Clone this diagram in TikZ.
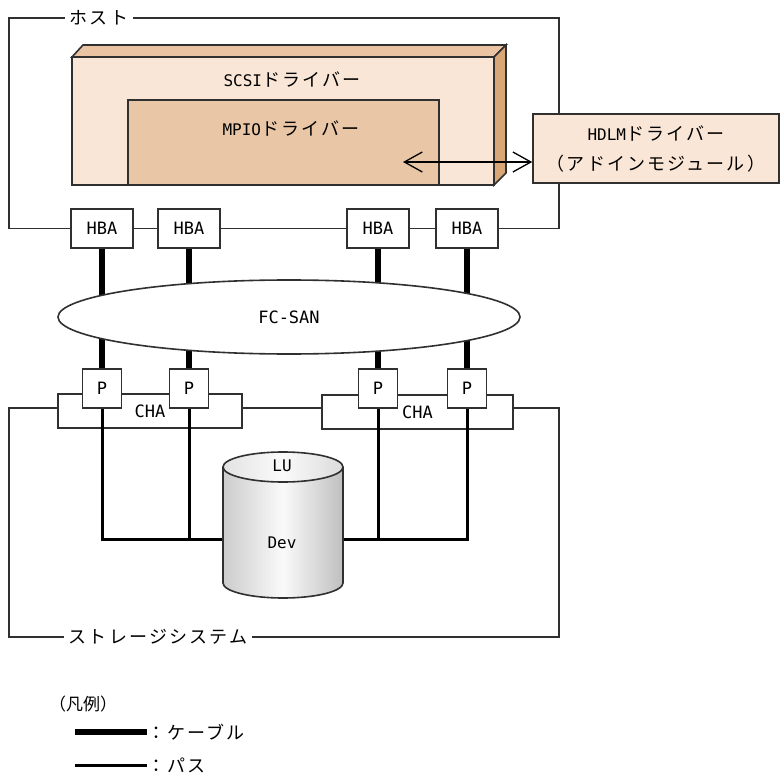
\documentclass[tikz,border=0pt]{standalone}
\usepackage{fontspec}
\usetikzlibrary{arrows.meta,shapes.geometric}
\newfontfamily\jp[LetterSpace=12]{Noto Sans CJK JP}
\newfontfamily\jpn{Noto Sans CJK JP}
\newfontfamily\mono{DejaVu Sans Mono}
\definecolor{scsifront}{HTML}{F9E6D6}
\definecolor{scsitop}{HTML}{EAC4A2}
\definecolor{scsiside}{HTML}{D9A677}
\definecolor{mpiofill}{HTML}{E8C6A6}
\definecolor{hdlmfill}{HTML}{FAE6D6}
\definecolor{ln}{HTML}{303030}
\begin{document}
\begin{tikzpicture}[x=1pt,y=-1pt,
  frame/.style={draw=ln,line width=1.4pt},
  outl/.style={draw=ln,line width=1.6pt},
  box/.style={draw=ln,line width=1.6pt,fill=white,inner sep=0pt,rectangle},
  hbabox/.style={box,minimum width=62pt,minimum height=39pt,font=\mono\fontsize{17}{17}\selectfont},
  pbox/.style={box,minimum width=39pt,minimum height=39pt,font=\mono\fontsize{17}{17}\selectfont},
  chabox/.style={box,minimum height=34pt,font=\mono\fontsize{17}{17}\selectfont},
  cable/.style={line width=5.5pt,black},
  pathline/.style={line width=3pt,black},
  lbl/.style={font=\jp\fontsize{18}{18}\selectfont,inner sep=5pt},
  txt/.style={inner sep=0pt},
]
\useasboundingbox (0,0) rectangle (780,776);

% ---------- host frame ----------
\node[lbl] (hostl) at (99,18) {ホスト};
\node[hbabox] (hba1) at (102,228.5) {HBA};
\node[hbabox] (hba2) at (189,228.5) {HBA};
\node[hbabox] (hba3) at (378,228.5) {HBA};
\node[hbabox] (hba4) at (467,228.5) {HBA};
\draw[frame] (hostl.east) -- (559,18) -- (559,228.5) -- (hba4.east);
\draw[frame] (hba4.west) -- (hba3.east);
\draw[frame] (hba3.west) -- (hba2.east);
\draw[frame] (hba2.west) -- (hba1.east);
\draw[frame] (hba1.west) -- (9,228.5) -- (9,18) -- (hostl.west);

% ---------- SCSI driver (3D block) ----------
\filldraw[outl,fill=scsitop] (72,57) -- (83,45) -- (506,45) -- (494,57) -- cycle;
\filldraw[outl,fill=scsiside] (494,57) -- (506,45) -- (506,173) -- (494,185) -- cycle;
\filldraw[outl,fill=scsifront] (72,57) rectangle (494,185);
\node[txt] (scsi) at (292,80) {{\mono\fontsize{16}{16}\selectfont SCSI}{\jp\fontsize{18}{18}\selectfont ドライバー}};
\node[box,fill=mpiofill,minimum width=311pt,minimum height=85pt] (mpio) at (283.5,142.5) {};
\node[txt] (mpiol) at (291,129) {{\mono\fontsize{16}{16}\selectfont MPIO}{\jp\fontsize{18}{18}\selectfont ドライバー}};

% ---------- HDLM driver ----------
\node[box,fill=hdlmfill,minimum width=246pt,minimum height=69pt,align=center,
      font=\fontsize{18}{30}\selectfont] (hdlm) at (656,148.5)
  {{\mono\fontsize{16}{16}\selectfont HDLM}{\jp ドライバー}\\{\jp （アドインモジュール）}};
\coordinate (arrL) at (403,162);
\draw[line width=1.3pt,{Straight Barb[length=18pt,width=20pt]}-{Straight Barb[length=18pt,width=20pt]}]
  (arrL) -- (arrL -| hdlm.west);

% ---------- storage frame and CHA ----------
\coordinate (fy) at (0,408);
\coordinate (by) at (0,539);
\node[chabox,minimum width=184pt] (cha1) at (150,411) {CHA};
\node[chabox,minimum width=191pt] (cha2) at (417.5,412) {CHA};
\node[lbl] (stl) at (158,637) {ストレージシステム};
\draw[frame] (cha1.west |- fy) -- (9,408) -- (9,637) -- (stl.west);
\draw[frame] (stl.east) -- (559,637) -- (559,408) -- (cha2.east |- fy);
\draw[frame] (cha1.east |- fy) -- (cha2.west |- fy);

% ---------- P ports (positions) ----------
\coordinate (p1c) at (102,388.5);
\coordinate (p2c) at (189,388.5);
\coordinate (p3c) at (378,388.5);
\coordinate (p4c) at (467,388.5);

% ---------- cables ----------
\draw[cable] (hba1.south) -- (p1c);
\draw[cable] (hba2.south) -- (p2c);
\draw[cable] (hba3.south) -- (p3c);
\draw[cable] (hba4.south) -- (p4c);

% ---------- FC-SAN ----------
\node[draw=ln,line width=1.6pt,ellipse,fill=white,minimum width=462pt,minimum height=74pt,
      font=\mono\fontsize{17}{17}\selectfont] (san) at (289,317) {FC-SAN};

% ---------- paths ----------
\coordinate (cylL) at (223,539);
\coordinate (cylR) at (343,539);
\draw[pathline] (p1c) -- (p1c |- by) -- (cylL);
\draw[pathline] (p2c) -- (p2c |- by);
\draw[pathline] (p4c) -- (p4c |- by) -- (cylR);
\draw[pathline] (p3c) -- (p3c |- by);

% ---------- P boxes ----------
\node[pbox] (p1) at (p1c) {P};
\node[pbox] (p2) at (p2c) {P};
\node[pbox] (p3) at (p3c) {P};
\node[pbox] (p4) at (p4c) {P};

% ---------- LU cylinder ----------
\path[left color=gray!40,right color=gray!50,middle color=gray!4]
  (223,467) -- (223,583) arc[start angle=180,end angle=0,x radius=60,y radius=15] -- (343,467) -- cycle;
\draw[outl] (223,467) -- (223,583) arc[start angle=180,end angle=0,x radius=60,y radius=15] -- (343,467);
\draw[outl,left color=gray!22,right color=gray!28,middle color=gray!4] (283,467) ellipse[x radius=60,y radius=15];
\node[txt,font=\mono\fontsize{16}{16}\selectfont] (lu) at (282,466) {LU};
\node[txt,font=\mono\fontsize{16}{16}\selectfont] (dev) at (282,543) {Dev};

% ---------- legend ----------
\node[txt,font=\jpn\fontsize{17}{17}\selectfont] (leg) at (83,704) {（凡例）};
\coordinate (lc1) at (75,732);
\coordinate (lc2) at (75,765);
\node[txt,anchor=west,font=\jp\fontsize{18}{18}\selectfont] (lt1) at (147,732) {：ケーブル};
\node[txt,anchor=west,font=\jp\fontsize{18}{18}\selectfont] (lt2) at (147,765) {：パス};
\draw[line width=6pt,black] (lc1) -- (lt1.west);
\draw[pathline] (lc2) -- (lt2.west);
\end{tikzpicture}
\end{document}
